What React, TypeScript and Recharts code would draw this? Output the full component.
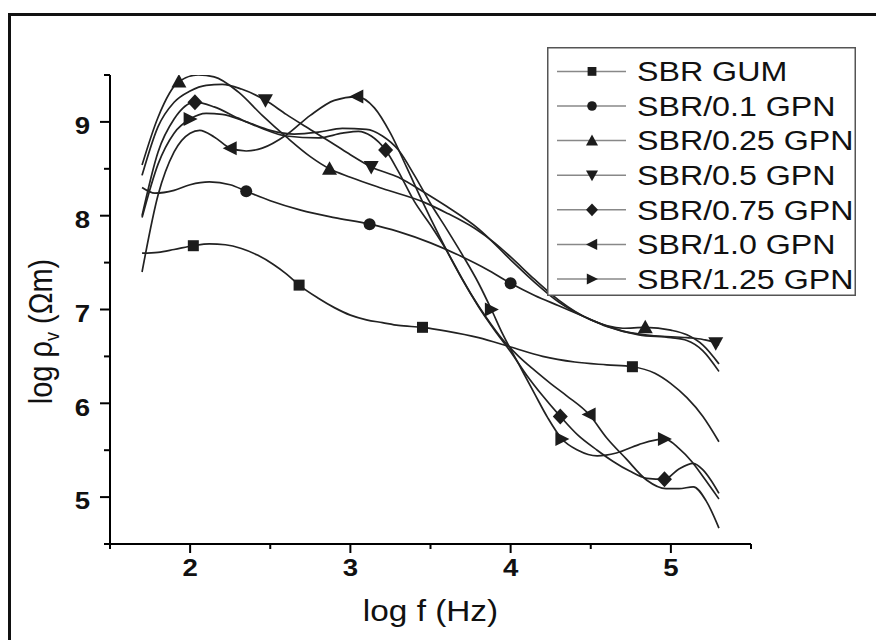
import React from 'react';
import { LineChart, Line, XAxis, YAxis, Legend, Label } from 'recharts';

// ---------- data (log f in Hz, log rho_v in Ohm·m) ----------
const xTicks = [1.5, 2, 2.5, 3, 3.5, 4, 4.5, 5, 5.5];
const yTicks = [4.5, 5, 5.5, 6, 6.5, 7, 7.5, 8, 8.5, 9, 9.5];
const xMajor = [2, 3, 4, 5];
const yMajor = [5, 6, 7, 8, 9];

const seriesNames = [
  'SBR GUM',
  'SBR/0.1 GPN',
  'SBR/0.25 GPN',
  'SBR/0.5 GPN',
  'SBR/0.75 GPN',
  'SBR/1.0 GPN',
  'SBR/1.25 GPN',
];

const gum: [number, number][] = [
  [1.7, 7.6], [1.8, 7.61], [1.9, 7.64], [2.02, 7.68], [2.12, 7.7], [2.22, 7.69], [2.32, 7.65],
  [2.42, 7.58], [2.52, 7.48], [2.6, 7.38], [2.68, 7.26], [2.8, 7.12], [2.9, 7.02], [3.0, 6.94],
  [3.1, 6.89], [3.2, 6.86], [3.3, 6.83], [3.45, 6.81], [3.6, 6.77], [3.8, 6.7], [4.0, 6.6],
  [4.2, 6.5], [4.4, 6.44], [4.6, 6.41], [4.76, 6.39], [4.9, 6.32], [5.0, 6.21], [5.1, 6.06],
  [5.2, 5.86], [5.3, 5.59],
];
const gumMarkers = [2.02, 2.68, 3.45, 4.76];

const gpn01: [number, number][] = [
  [1.7, 8.3], [1.78, 8.24], [1.9, 8.27], [2.0, 8.33], [2.12, 8.36], [2.25, 8.33], [2.35, 8.26],
  [2.5, 8.16], [2.69, 8.06], [2.9, 7.98], [3.12, 7.91], [3.3, 7.83], [3.5, 7.71], [3.7, 7.56],
  [3.85, 7.43], [4.0, 7.28], [4.15, 7.15], [4.3, 7.04], [4.45, 6.93], [4.6, 6.82], [4.8, 6.73],
  [5.0, 6.7], [5.1, 6.67], [5.2, 6.56], [5.3, 6.34],
];
const gpn01Markers = [2.35, 3.12, 4.0];

const gpn025: [number, number][] = [
  [1.7, 8.54], [1.8, 9.05], [1.93, 9.43], [2.05, 9.5], [2.15, 9.48], [2.3, 9.32], [2.45, 9.07],
  [2.6, 8.84], [2.75, 8.63], [2.87, 8.5], [3.0, 8.41], [3.2, 8.29], [3.45, 8.15], [3.6, 8.03],
  [3.78, 7.86], [3.9, 7.71], [4.0, 7.56], [4.15, 7.32], [4.3, 7.1], [4.5, 6.89], [4.7, 6.8],
  [4.84, 6.81], [5.0, 6.78], [5.1, 6.73], [5.2, 6.62], [5.3, 6.42],
];
const gpn025Markers = [1.93, 2.87, 4.84];

const gpn05: [number, number][] = [
  [1.7, 8.43], [1.8, 8.95], [1.9, 9.21], [2.0, 9.33], [2.1, 9.39], [2.2, 9.4], [2.32, 9.35],
  [2.47, 9.23], [2.6, 9.08], [2.72, 8.95], [2.9, 8.76], [3.0, 8.65], [3.13, 8.52], [3.3, 8.41],
  [3.46, 8.25], [3.6, 8.1], [3.8, 7.86], [4.0, 7.53], [4.15, 7.29], [4.3, 7.08], [4.5, 6.89],
  [4.7, 6.77], [4.9, 6.72], [5.1, 6.7], [5.2, 6.68], [5.28, 6.64], [5.3, 6.62],
];
const gpn05Markers = [2.47, 3.13, 5.28];

const gpn075: [number, number][] = [
  [1.7, 8.0], [1.8, 8.68], [1.9, 9.03], [2.03, 9.21], [2.15, 9.16], [2.3, 9.04], [2.45, 8.93],
  [2.6, 8.85], [2.8, 8.83], [2.95, 8.88], [3.05, 8.9], [3.13, 8.85], [3.22, 8.7], [3.3, 8.47],
  [3.4, 8.15], [3.5, 7.9], [3.6, 7.63], [3.7, 7.32], [3.8, 7.03], [3.9, 6.78], [4.0, 6.55],
  [4.1, 6.3], [4.2, 6.08], [4.31, 5.86], [4.42, 5.66], [4.54, 5.5], [4.64, 5.38], [4.74, 5.28],
  [4.85, 5.2], [4.96, 5.19], [5.05, 5.3], [5.14, 5.36], [5.2, 5.29], [5.25, 5.18], [5.3, 5.04],
];
const gpn075Markers = [2.03, 3.22, 4.31, 4.96];

const gpn10: [number, number][] = [
  [1.7, 7.4], [1.8, 8.22], [1.9, 8.68], [2.0, 8.88], [2.06, 8.91], [2.15, 8.84], [2.25, 8.72],
  [2.35, 8.69], [2.45, 8.72], [2.6, 8.86], [2.75, 9.07], [2.9, 9.23], [3.04, 9.27], [3.15, 9.15],
  [3.25, 8.88], [3.35, 8.52], [3.45, 8.15], [3.55, 7.8], [3.65, 7.47], [3.75, 7.17], [3.85, 6.91],
  [3.95, 6.68], [4.05, 6.5], [4.15, 6.35], [4.25, 6.21], [4.35, 6.08], [4.49, 5.88], [4.6, 5.63],
  [4.72, 5.41], [4.85, 5.18], [4.97, 5.09], [5.05, 5.09], [5.14, 5.11], [5.22, 4.96], [5.3, 4.67],
];
const gpn10Markers = [2.25, 3.04, 4.49];

const gpn125: [number, number][] = [
  [1.7, 7.98], [1.8, 8.55], [1.9, 8.88], [2.0, 9.03], [2.1, 9.09], [2.2, 9.08], [2.35, 9.0],
  [2.5, 8.91], [2.65, 8.87], [2.8, 8.89], [2.95, 8.93], [3.1, 8.92], [3.2, 8.85], [3.3, 8.7],
  [3.4, 8.43], [3.5, 8.13], [3.6, 7.86], [3.7, 7.58], [3.8, 7.28], [3.88, 7.0], [3.95, 6.74],
  [4.05, 6.42], [4.15, 6.1], [4.23, 5.85], [4.32, 5.62], [4.42, 5.5], [4.54, 5.44], [4.66, 5.47],
  [4.8, 5.56], [4.96, 5.62], [5.05, 5.52], [5.13, 5.38], [5.2, 5.22], [5.3, 4.98],
];
const gpn125Markers = [2.0, 3.88, 4.32, 4.96];

// ---------- presentation ----------
const FONT = '"Liberation Sans", Arial, Helvetica, sans-serif';
const SX = 1.15; // horizontal text stretch of the original picture
const LINE = '#222';
const MARK = '#1c1c1c';

type Shape = 'square' | 'circle' | 'up' | 'down' | 'diamond' | 'left' | 'right';

const toPts = (arr: [number, number][]) => arr.map(([x, y]) => ({ x, y }));

const series: { name: string; data: { x: number; y: number }[]; markers: number[]; shape: Shape }[] = [
  { name: seriesNames[0], data: toPts(gum), markers: gumMarkers, shape: 'square' },
  { name: seriesNames[1], data: toPts(gpn01), markers: gpn01Markers, shape: 'circle' },
  { name: seriesNames[2], data: toPts(gpn025), markers: gpn025Markers, shape: 'up' },
  { name: seriesNames[3], data: toPts(gpn05), markers: gpn05Markers, shape: 'down' },
  { name: seriesNames[4], data: toPts(gpn075), markers: gpn075Markers, shape: 'diamond' },
  { name: seriesNames[5], data: toPts(gpn10), markers: gpn10Markers, shape: 'left' },
  { name: seriesNames[6], data: toPts(gpn125), markers: gpn125Markers, shape: 'right' },
];

function Marker({ shape, cx, cy, k = 1, fill = MARK }: { shape: Shape; cx: number; cy: number; k?: number; fill?: string }) {
  const p = (pts: number[][]) => pts.map(([a, b]) => `${cx + a * k},${cy + b * k}`).join(' ');
  switch (shape) {
    case 'square':
      return <rect x={cx - 5.5 * k} y={cy - 5.5 * k} width={11 * k} height={11 * k} fill={fill} />;
    case 'circle':
      return <circle cx={cx} cy={cy} r={6 * k} fill={fill} />;
    case 'up':
      return <polygon points={p([[0, -7.5], [7.5, 6], [-7.5, 6]])} fill={fill} />;
    case 'down':
      return <polygon points={p([[0, 7.5], [7.5, -6], [-7.5, -6]])} fill={fill} />;
    case 'diamond':
      return <polygon points={p([[0, -8], [7.5, 0], [0, 8], [-7.5, 0]])} fill={fill} />;
    case 'left':
      return <polygon points={p([[-7.5, 0], [6.5, -7], [6.5, 7]])} fill={fill} />;
    case 'right':
      return <polygon points={p([[7.5, 0], [-6.5, -7], [-6.5, 7]])} fill={fill} />;
  }
  return null;
}

const makeDot = (shape: Shape, markers: number[], name: string) => (props: any) => {
  const { cx, cy, payload, index } = props;
  const key = `${name}-dot-${index}`;
  if (!payload || !markers.includes(payload.x) || cx == null || cy == null) return <g key={key} />;
  return (
    <g key={key}>
      <Marker shape={shape} cx={cx} cy={cy} />
    </g>
  );
};

const XTick = (props: any) => {
  const { x, y, payload } = props;
  const v = payload.value;
  const major = xMajor.includes(v);
  return (
    <g>
      <line x1={x} y1={y} x2={x} y2={y + (major ? 9 : 5)} stroke="#000" strokeWidth={2} />
      {major && (
        <text
          transform={`translate(${x},${y + 24}) scale(${SX},1)`}
          textAnchor="middle"
          dominantBaseline="central"
          fontFamily={FONT}
          fontWeight="bold"
          fontSize={24}
          fill="#111"
        >
          {String(v)}
        </text>
      )}
    </g>
  );
};

const YTick = (props: any) => {
  const { x, y, payload } = props;
  const v = payload.value;
  const major = yMajor.includes(v);
  return (
    <g>
      <line x1={x} y1={y} x2={x - (major ? 10 : 6)} y2={y} stroke="#000" strokeWidth={2} />
      {major && (
        <text
          transform={`translate(${x - 20},${y + 4}) scale(${SX},1)`}
          textAnchor="end"
          dominantBaseline="central"
          fontFamily={FONT}
          fontWeight="bold"
          fontSize={24}
          fill="#111"
        >
          {String(v)}
        </text>
      )}
    </g>
  );
};

const XLabel = (props: any) => {
  const vb = props.viewBox || { x: 110, y: 544, width: 641, height: 60 };
  const cx = vb.x + vb.width / 2;
  return (
    <text
      transform={`translate(${cx},${vb.y + 77}) scale(${SX},1)`}
      textAnchor="middle"
      fontFamily={FONT}
      fontSize={29}
      fill="#111"
    >
      log f (Hz)
    </text>
  );
};

const YLabel = (props: any) => {
  const vb = props.viewBox || { x: 50, y: 75, width: 60, height: 469 };
  const bx = vb.x + vb.width - 58;
  const cy = vb.y + vb.height / 2 + 22;
  return (
    <text
      transform={`translate(${bx},${cy}) scale(${SX},1) rotate(-90)`}
      textAnchor="middle"
      fontFamily={FONT}
      fontSize={29}
      fill="#111"
    >
      <tspan>log ρ</tspan>
      <tspan fontSize={18} dy={6}>v</tspan>
      <tspan dy={-6}> (Ωm)</tspan>
    </text>
  );
};

const LEG_W = 309;
const LEG_H = 249;

const renderLegend = () => (
  <svg width={LEG_W} height={LEG_H} style={{ display: 'block' }}>
    <rect x={0.75} y={0.75} width={LEG_W - 1.5} height={LEG_H - 1.5} fill="#fff" stroke="#555" strokeWidth={1.5} />
    {series.map((s, i) => {
      const cy = 24.4 + i * 34.6;
      return (
        <g key={s.name}>
          <line x1={10} x2={79} y1={cy} y2={cy} stroke="#888" strokeWidth={1.5} />
          <Marker shape={s.shape} cx={45} cy={cy} k={0.8} />
          <text
            transform={`translate(90,${cy}) scale(${SX},1)`}
            dominantBaseline="central"
            fontFamily={FONT}
            fontSize={28}
            fill="#111"
          >
            {s.name}
          </text>
        </g>
      );
    })}
  </svg>
);

export default function App() {
  return (
    <div style={{ position: 'absolute', left: 0, top: 0, width: 876, height: 640, overflow: 'hidden', background: '#fff' }}>
      <div
        style={{
          position: 'absolute',
          left: 8,
          top: 13,
          width: 868,
          height: 627,
          borderTop: '3px solid #111',
          borderLeft: '3px solid #111',
          boxSizing: 'border-box',
        }}
      />
      <div style={{ position: 'absolute', left: 0, top: 0 }}>
        <LineChart width={876} height={640} margin={{ top: 75, right: 125, bottom: 36, left: 50 }}>
          <XAxis
            type="number"
            dataKey="x"
            domain={[1.5, 5.5]}
            ticks={xTicks}
            interval={0}
            tickSize={0}
            tickMargin={0}
            tickLine={false}
            tick={<XTick />}
            axisLine={{ stroke: '#000', strokeWidth: 2 }}
            height={60}
            allowDataOverflow
          >
            <Label content={<XLabel />} />
          </XAxis>
          <YAxis
            type="number"
            domain={[4.5, 9.5]}
            ticks={yTicks}
            interval={0}
            tickSize={0}
            tickMargin={0}
            tickLine={false}
            tick={<YTick />}
            axisLine={{ stroke: '#000', strokeWidth: 2 }}
            width={60}
            allowDataOverflow
          >
            <Label content={<YLabel />} />
          </YAxis>
          <Legend
            layout="vertical"
            align="center"
            verticalAlign="middle"
            content={renderLegend}
            wrapperStyle={{ position: 'absolute', left: 547, top: 47, width: LEG_W, height: LEG_H }}
          />
          {series.map((s) => (
            <Line
              key={s.name}
              name={s.name}
              data={s.data}
              dataKey="y"
              type="monotone"
              stroke={LINE}
              strokeWidth={1.7}
              dot={makeDot(s.shape, s.markers, s.name)}
              activeDot={false}
              isAnimationActive={false}
            />
          ))}
        </LineChart>
      </div>
    </div>
  );
}
